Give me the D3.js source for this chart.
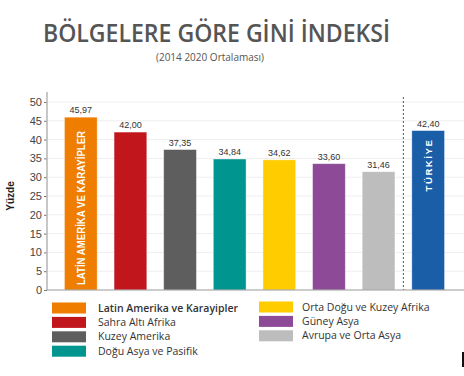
<!DOCTYPE html>
<html>
<head>
<meta charset="utf-8">
<script src="https://cdn.jsdelivr.net/npm/d3@7"></script>
<style>
  body { margin: 0; background: #fff; }
  svg { display: block; }
</style>
</head>
<body>
<div id="chart"></div>
<script>
// data
const regions = ['Latin Amerika ve Karayipler', 'Sahra Altı Afrika', 'Kuzey Amerika', 'Doğu Asya ve Pasifik',
    'Orta Doğu ve Kuzey Afrika', 'Güney Asya', 'Avrupa ve Orta Asya', 'Türkiye'];
const giniValues = [45.97, 42.00, 37.35, 34.84, 34.62, 33.60, 31.46, 42.40];
const barColors = ['#ef7d00', '#c0161c', '#5e5e5e', '#00958f', '#ffcc00', '#8d4b97', '#bdbdbd', '#1a5ea8'];
const barInnerLabels = ['LATİN AMERİKA VE KARAYİPLER', '', '', '', '', '', '', 'TÜRKİYE'];
const yTicks = [0, 5, 10, 15, 20, 25, 30, 35, 40, 45, 50];
const legendCols = [[0, 1, 2, 3], [4, 5, 6]];

const width = 464, height = 376;
const margin = {top: 100, right: 0, bottom: 86, left: 47};

const svg = d3.select('#chart').append('svg')
    .attr('width', width)
    .attr('height', height)
    .attr('viewBox', `0 0 ${width} ${height}`);

// titles
svg.append('text')
    .attr('x', 216.5).attr('y', 42)
    .attr('text-anchor', 'middle')
    .attr('font-family', 'Open Sans, sans-serif')
    .attr('font-weight', 600)
    .attr('font-size', 24.5)
    .attr('textLength', 347)
    .attr('lengthAdjust', 'spacingAndGlyphs')
    .attr('fill', '#555')
    .text('BÖLGELERE GÖRE GİNİ İNDEKSİ');

svg.append('text')
    .attr('x', 210).attr('y', 61)
    .attr('text-anchor', 'middle')
    .attr('font-family', 'Open Sans, sans-serif')
    .attr('font-size', 10)
    .attr('fill', '#555')
    .text('(2014 2020 Ortalaması)');

const y = d3.scaleLinear()
    .domain([0, 50])
    .range([290, 102]);

const x = d3.scaleBand()
    .domain(regions)
    .range([56, 453])
    .paddingInner(0.34)
    .paddingOuter(0.17);

// grid
svg.append('g')
    .selectAll('line')
    .data(yTicks.filter(t => t > 0))
    .enter()
    .append('line')
    .attr('x1', margin.left).attr('x2', width)
    .attr('y1', d => y(d)).attr('y2', d => y(d))
    .attr('stroke', '#eeeeee')
    .attr('stroke-width', 1);

// y axis
const yAxis = d3.axisLeft(y)
    .tickValues(yTicks)
    .tickSize(3)
    .tickPadding(2);

const ax = svg.append('g')
    .attr('transform', `translate(${margin.left},0)`)
    .call(yAxis);
ax.select('.domain').remove();
ax.selectAll('.tick line').attr('stroke', '#777');
ax.selectAll('.tick text')
    .attr('font-family', 'Liberation Sans, Arial, sans-serif')
    .attr('font-size', 11)
    .attr('fill', '#444');

svg.append('line')
    .attr('x1', margin.left).attr('x2', margin.left)
    .attr('y1', 92).attr('y2', y(0))
    .attr('stroke', '#b5b5b5')
    .attr('stroke-width', 1.5);

svg.append('text')
    .attr('transform', `translate(14,${y(25)}) rotate(-90)`)
    .attr('text-anchor', 'middle')
    .attr('font-family', 'Liberation Sans, Arial, sans-serif')
    .attr('font-weight', 700)
    .attr('font-size', 10)
    .attr('fill', '#222')
    .text('Yüzde');

// separator before Türkiye
const sepX = (x(regions[6]) + x.bandwidth() + x(regions[7])) / 2;
svg.append('line')
    .attr('x1', sepX).attr('x2', sepX)
    .attr('y1', 97).attr('y2', y(0))
    .attr('stroke', '#555')
    .attr('stroke-width', 1)
    .attr('stroke-dasharray', '2,2');

// bars
const bars = svg.append('g')
    .selectAll('.bar')
    .data(regions)
    .enter()
    .append('g')
    .classed('bar', true);

bars.append('rect')
    .attr('x', d => x(d))
    .attr('y', (d, i) => y(giniValues[i]))
    .attr('width', x.bandwidth())
    .attr('height', (d, i) => y(0) - y(giniValues[i]))
    .attr('fill', (d, i) => barColors[i])
    .attr('stroke', 'rgba(255,255,255,0.5)')
    .attr('stroke-width', 0.8);

bars.append('text')
    .attr('x', d => x(d) + x.bandwidth() / 2)
    .attr('y', (d, i) => y(giniValues[i]) - 4)
    .attr('text-anchor', 'middle')
    .attr('font-family', 'Liberation Sans, Arial, sans-serif')
    .attr('font-size', 9)
    .attr('fill', '#333')
    .text((d, i) => d3.format('.2f')(giniValues[i]).replace('.', ','));

// labels inside bars
const latin = bars.filter((d, i) => i === 0);
latin.append('text')
    .attr('transform', d => `translate(${x(d) + x.bandwidth() / 2 + 4},${y(0) - 5}) rotate(-90)`)
    .attr('text-anchor', 'start')
    .attr('font-family', 'Liberation Sans, Arial, sans-serif')
    .attr('font-weight', 700)
    .attr('font-size', 10.5)
    .attr('textLength', 154)
    .attr('lengthAdjust', 'spacingAndGlyphs')
    .attr('fill', '#fff')
    .text(barInnerLabels[0]);

const tr = bars.filter((d, i) => i === 7);
tr.append('text')
    .attr('transform', d => `translate(${x(d) + x.bandwidth() / 2 + 3.5},${y(giniValues[7]) + 8}) rotate(-90)`)
    .attr('text-anchor', 'end')
    .attr('font-family', 'Liberation Sans, Arial, sans-serif')
    .attr('font-weight', 700)
    .attr('font-size', 9.5)
    .attr('letter-spacing', 1.6)
    .attr('fill', '#fff')
    .text(barInnerLabels[7]);

// baseline
svg.append('line')
    .attr('x1', margin.left).attr('x2', width)
    .attr('y1', y(0)).attr('y2', y(0))
    .attr('stroke', '#999')
    .attr('stroke-width', 1.2);

// legend
const legendX = [52, 259];
const legendTextDx = [46, 43];
const legendY0 = 308, legendStep = 14.4;
legendCols.forEach((col, c) => {
    const g = svg.append('g').attr('transform', `translate(${legendX[c]},${legendY0 - (c ? 1 : 0)})`);
    const items = g.selectAll('.leg')
        .data(col)
        .enter()
        .append('g')
        .attr('transform', (d, i) => `translate(0,${i * legendStep})`);
    items.append('rect')
        .attr('x', 0).attr('y', -5.5)
        .attr('width', 34).attr('height', 11)
        .attr('fill', d => barColors[d]);
    items.append('text')
        .attr('x', legendTextDx[c]).attr('y', 0)
        .attr('dy', '0.35em')
        .attr('font-family', 'Open Sans, sans-serif')
        .attr('font-size', 10.5)
        .attr('font-weight', d => d === 0 ? 600 : 400)
        .attr('fill', '#333')
        .text(d => regions[d]);
});

// small mark at the right edge
svg.append('rect')
    .attr('x', 462).attr('y', 352)
    .attr('width', 2).attr('height', 15)
    .attr('fill', '#111');
</script>
</body>
</html>
